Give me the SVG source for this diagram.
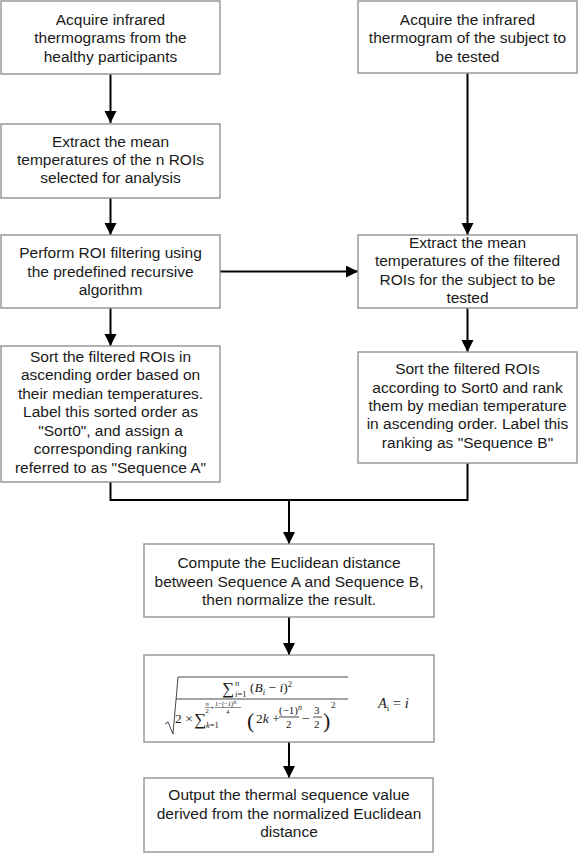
<svg xmlns="http://www.w3.org/2000/svg" width="579" height="853" viewBox="0 0 579 853">
<style>
.box{fill:#fff;stroke:#9a9a9a;stroke-width:1.5}
.t{font-family:"Liberation Sans",Arial,sans-serif;font-size:15.5px;fill:#1a1a1a;text-anchor:middle}
.c{fill:none;stroke:#000;stroke-width:2}
.m{font-family:"Liberation Serif","DejaVu Serif",serif;font-size:13.5px;fill:#1a1a1a}
.s{font-size:8.5px}
.i{font-style:italic}
.fl{stroke:#1a1a1a;stroke-width:0.8;fill:none}
</style>
<defs>
<marker id="ah" markerUnits="userSpaceOnUse" markerWidth="12" markerHeight="14" refX="12" refY="6" orient="auto">
<path d="M0,0 L12,6 L0,12 Z" fill="#000"/>
</marker>
</defs>
<rect width="579" height="853" fill="#fff"/>
<g id="connectors">
<line class="c" x1="110.5" y1="74" x2="110.5" y2="123" marker-end="url(#ah)"/>
<line class="c" x1="110.5" y1="198" x2="110.5" y2="235" marker-end="url(#ah)"/>
<line class="c" x1="110.5" y1="308" x2="110.5" y2="346" marker-end="url(#ah)"/>
<line class="c" x1="220" y1="271.5" x2="358" y2="271.5" marker-end="url(#ah)"/>
<line class="c" x1="467.5" y1="73" x2="467.5" y2="235" marker-end="url(#ah)"/>
<line class="c" x1="467.5" y1="308" x2="467.5" y2="352" marker-end="url(#ah)"/>
<polyline class="c" points="110.5,482 110.5,500 467.5,500 467.5,463"/>
<line class="c" x1="289" y1="500" x2="289" y2="544" marker-end="url(#ah)"/>
<line class="c" x1="289" y1="617" x2="289" y2="655" marker-end="url(#ah)"/>
<line class="c" x1="289" y1="742" x2="289" y2="778" marker-end="url(#ah)"/>
</g>
<g id="n1">
<rect class="box" x="1" y="1" width="219" height="73"/>
<text class="t" x="110.5" y="24.5">Acquire infrared</text>
<text class="t" x="110.5" y="43">thermograms from the</text>
<text class="t" x="110.5" y="61.5">healthy participants</text>
</g>
<g id="n2">
<rect class="box" x="1" y="124" width="219" height="74"/>
<text class="t" x="110.5" y="147">Extract the mean</text>
<text class="t" x="110.5" y="165">temperatures of the n ROIs</text>
<text class="t" x="110.5" y="183">selected for analysis</text>
</g>
<g id="n3">
<rect class="box" x="1" y="235" width="219" height="73"/>
<text class="t" x="110.5" y="258">Perform ROI filtering using</text>
<text class="t" x="110.5" y="277">the predefined recursive</text>
<text class="t" x="110.5" y="295">algorithm</text>
</g>
<g id="n4">
<rect class="box" x="1" y="346" width="219" height="136"/>
<text class="t" x="110.5" y="362">Sort the filtered ROIs in</text>
<text class="t" x="110.5" y="380">ascending order based on</text>
<text class="t" x="110.5" y="398.5">their median temperatures.</text>
<text class="t" x="110.5" y="417">Label this sorted order as</text>
<text class="t" x="110.5" y="435.5">"Sort0", and assign a</text>
<text class="t" x="110.5" y="454">corresponding ranking</text>
<text class="t" x="110.5" y="472.5">referred to as "Sequence A"</text>
</g>
<g id="r1">
<rect class="box" x="358" y="1" width="219" height="72"/>
<text class="t" x="467.5" y="24.5">Acquire the infrared</text>
<text class="t" x="467.5" y="43">thermogram of the subject to</text>
<text class="t" x="467.5" y="61.5">be tested</text>
</g>
<g id="r2">
<rect class="box" x="358" y="235" width="219" height="73"/>
<text class="t" x="467.5" y="248">Extract the mean</text>
<text class="t" x="467.5" y="266">temperatures of the filtered</text>
<text class="t" x="467.5" y="284.5">ROIs for the subject to be</text>
<text class="t" x="467.5" y="303">tested</text>
</g>
<g id="r3">
<rect class="box" x="358" y="352" width="219" height="111"/>
<text class="t" x="467.5" y="374">Sort the filtered ROIs</text>
<text class="t" x="467.5" y="392.5">according to Sort0 and rank</text>
<text class="t" x="467.5" y="411">them by median temperature</text>
<text class="t" x="467.5" y="429">in ascending order. Label this</text>
<text class="t" x="467.5" y="447.5">ranking as "Sequence B"</text>
</g>
<g id="n5">
<rect class="box" x="144" y="544" width="290" height="73"/>
<text class="t" x="289" y="568">Compute the Euclidean distance</text>
<text class="t" x="289" y="586.5">between Sequence A and Sequence B,</text>
<text class="t" x="289" y="605">then normalize the result.</text>
</g>
<g id="n6">
<rect class="box" x="144" y="655" width="290" height="87"/>
<path class="fl" d="M165,724 L168,722 L173,734 L178,677 L348,677"/>
<text class="m" x="222" y="694" style="font-size:17px">∑</text>
<text class="m s i" x="235" y="686">n</text>
<text class="m s" x="235" y="697"><tspan class="i">i</tspan>=1</text>
<text class="m" x="250" y="692">(<tspan class="i">B</tspan><tspan class="s i" dy="3">i</tspan><tspan dy="-3"> − </tspan><tspan class="i">i</tspan>)<tspan class="s" dy="-5">2</tspan></text>
<line class="fl" x1="176" y1="699" x2="348" y2="699"/>
<text class="m" x="175" y="723">2 ×</text>
<text class="m" x="194" y="725" style="font-size:17px">∑</text>
<text class="m s" x="206" y="728"><tspan class="i">k</tspan>=1</text>
<text class="m i" x="205.5" y="706" style="font-size:6.5px">n</text>
<line class="fl" x1="205" y1="707.5" x2="210.5" y2="707.5" style="stroke-width:0.5"/>
<text class="m" x="205.5" y="713" style="font-size:6.5px">2</text>
<text class="m" x="210.5" y="710" style="font-size:6.5px">+</text>
<text class="m" x="215" y="706" style="font-size:6.5px">1−(−1)<tspan class="i" dy="-2">n</tspan></text>
<line class="fl" x1="215" y1="707.5" x2="241" y2="707.5" style="stroke-width:0.5"/>
<text class="m" x="226" y="713.5" style="font-size:6.5px">4</text>
<text class="m" x="247" y="728" style="font-size:22px">(</text>
<text class="m" x="256" y="723">2<tspan class="i">k</tspan> +</text>
<text class="m" x="279" y="714" style="font-size:11px">(−1)<tspan class="i" style="font-size:8px" dy="-4">n</tspan></text>
<line class="fl" x1="279" y1="717" x2="299" y2="717"/>
<text class="m" x="286" y="728" style="font-size:11px">2</text>
<text class="m" x="302" y="723">−</text>
<text class="m" x="314" y="714" style="font-size:11px">3</text>
<line class="fl" x1="313" y1="717" x2="322" y2="717"/>
<text class="m" x="314" y="728" style="font-size:11px">2</text>
<text class="m" x="323" y="728" style="font-size:22px">)</text>
<text class="m" x="331" y="708" style="font-size:9px">2</text>
<text class="m" x="378" y="708" style="font-size:14.5px"><tspan class="i">A</tspan><tspan class="s" dy="3">i</tspan><tspan dy="-3"> = </tspan><tspan class="i">i</tspan></text>
</g>
<g id="n7">
<rect class="box" x="144" y="778" width="289" height="74"/>
<text class="t" x="289" y="800">Output the thermal sequence value</text>
<text class="t" x="289" y="818.5">derived from the normalized Euclidean</text>
<text class="t" x="289" y="837">distance</text>
</g>
</svg>
